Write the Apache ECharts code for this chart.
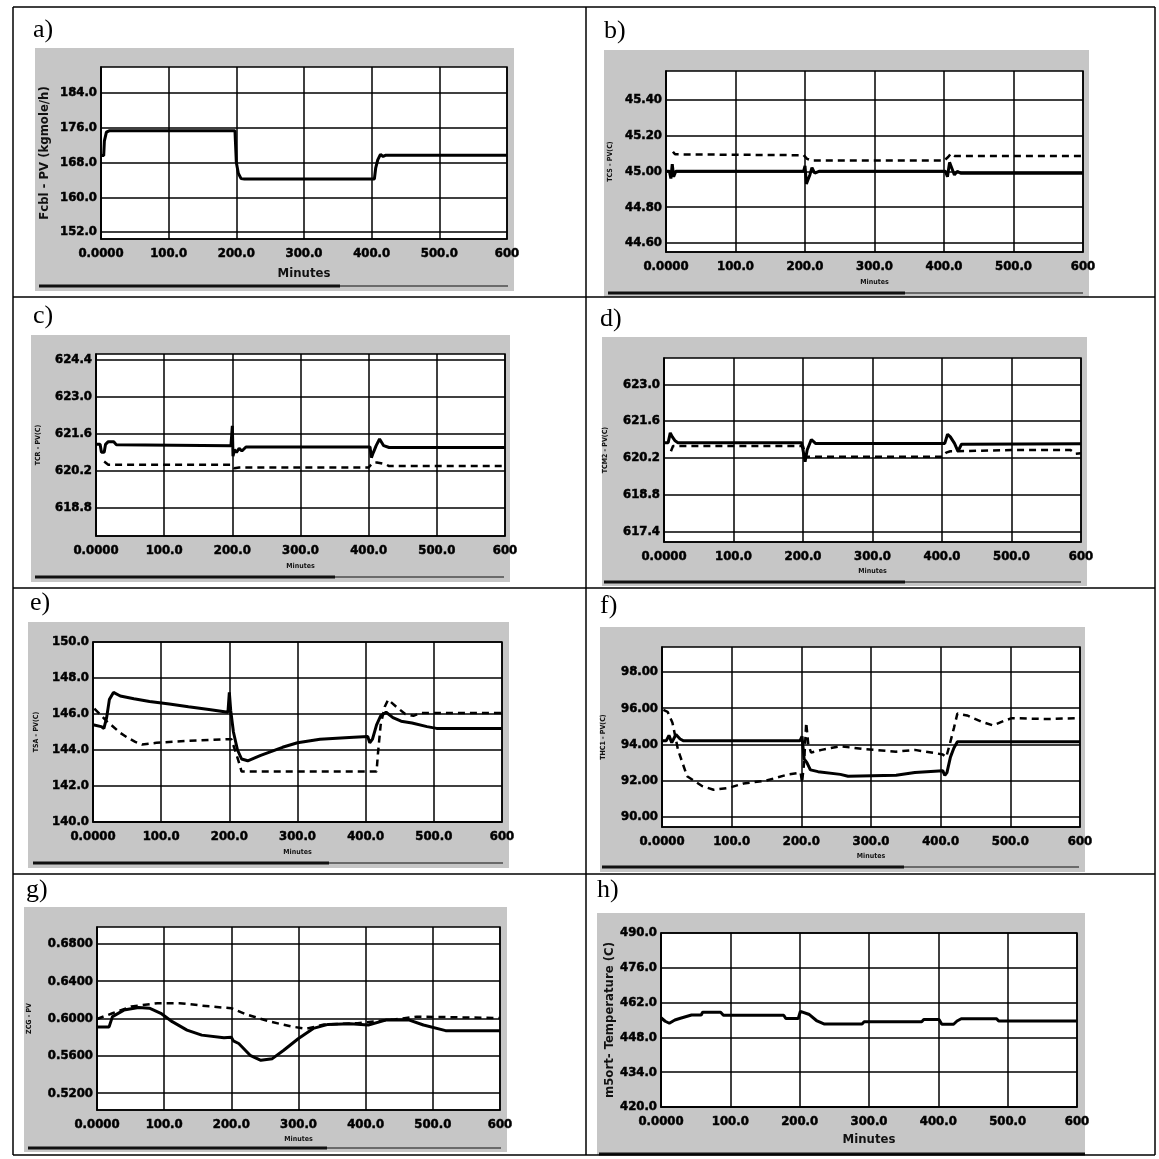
<!DOCTYPE html>
<html>
<head>
<meta charset="utf-8">
<script src="https://cdn.jsdelivr.net/npm/echarts@6/dist/echarts.min.js"></script>
<style>
html, body { margin: 0; padding: 0; background: #fff; }
#main { width: 1159px; height: 1159px; }
</style>
</head>
<body>
<div id="main"></div>
<script>
// shared time axis labels (minutes)
var xTickLabels = ['0.0000', '100.0', '200.0', '300.0', '400.0', '500.0', '600'];

// a) Fcbl - PV
var aTicks = [152, 160, 168, 176, 184];
var aTime = [0, 4, 5, 8, 12, 198, 200, 203, 207, 212, 404, 406, 409, 413, 417, 421, 600];
var aSolid = [169.6, 169.6, 173, 175, 175.3, 175.3, 168, 165.5, 164.3, 164.2, 164.2, 166.8, 168.6, 169.9, 169.4, 169.7, 169.7];

// b) TCS - PV
var bTicks = [44.6, 44.8, 45.0, 45.2, 45.4];
var bTime = [0, 5, 7, 9, 11, 14, 198, 200, 202, 204, 207, 210, 214, 220, 402, 405, 408, 411, 415, 419, 424, 600];
var bSolid = [45.0, 45.0, 44.96, 45.04, 44.97, 45.0, 45.0, 45.03, 44.93, 44.95, 44.98, 45.02, 44.99, 45.0, 45.0, 44.97, 45.05, 45.02, 44.98, 45.0, 44.99, 44.99];
var bDashTime = [10, 13, 198, 203, 210, 400, 406, 410, 416, 600];
var bDash = [45.11, 45.095, 45.09, 45.07, 45.06, 45.06, 45.08, 45.1, 45.085, 45.085];

// c) TCR - PV
var cTicks = [618.8, 620.2, 621.6, 623.0, 624.4];
var cTime = [0, 6, 8, 12, 14, 18, 26, 30, 198, 200, 201, 203, 206, 210, 214, 220, 402, 404, 407, 411, 416, 422, 430, 600];
var cSolid = [621.2, 621.2, 620.9, 620.9, 621.2, 621.3, 621.3, 621.18, 621.15, 621.9, 620.75, 621.0, 620.9, 621.05, 620.95, 621.1, 621.1, 620.7, 620.9, 621.15, 621.4, 621.15, 621.08, 621.08];
var cDashTime = [12, 14, 18, 199, 203, 210, 400, 405, 412, 425, 430, 600];
var cDash = [620.55, 620.48, 620.43, 620.43, 620.3, 620.33, 620.33, 620.48, 620.52, 620.45, 620.38, 620.38];

// d) TCM2 - PV
var dTicks = [617.4, 618.8, 620.2, 621.6, 623.0];
var dTime = [0, 6, 9, 12, 16, 20, 198, 200, 203, 206, 212, 218, 404, 408, 412, 418, 423, 428, 600];
var dSolid = [620.78, 620.78, 621.15, 621.0, 620.85, 620.78, 620.78, 620.5, 620.05, 620.5, 620.9, 620.75, 620.75, 621.1, 621.0, 620.75, 620.45, 620.72, 620.74];
var dDashTime = [10, 13, 200, 204, 400, 406, 412, 500, 585, 592, 600];
var dDash = [620.45, 620.65, 620.65, 620.24, 620.24, 620.4, 620.45, 620.5, 620.5, 620.36, 620.38];

// e) TSA - PV
var eTicks = [140, 142, 144, 146, 148, 150];
var eTime = [0, 12, 16, 20, 24, 30, 40, 60, 83, 112, 140, 170, 198, 200, 202, 206, 212, 218, 227, 246, 278, 300, 333, 376, 403, 406, 410, 416, 422, 430, 440, 452, 468, 490, 504, 600];
var eSolid = [145.4, 145.3, 145.2, 145.8, 146.8, 147.2, 147.0, 146.85, 146.7, 146.55, 146.4, 146.25, 146.1, 147.2, 146.2, 145.0, 144.0, 143.5, 143.4, 143.7, 144.15, 144.4, 144.6, 144.7, 144.75, 144.4, 144.6, 145.4, 145.9, 146.1, 145.8, 145.6, 145.5, 145.3, 145.2, 145.2];
var eDashTime = [2, 10, 20, 28, 40, 50, 62, 72, 93, 137, 200, 203, 210, 215, 218, 416, 418, 422, 428, 433, 445, 458, 470, 480, 600];
var eDash = [146.3, 146.0, 145.6, 145.35, 144.95, 144.7, 144.45, 144.3, 144.4, 144.5, 144.6, 144.6, 143.8, 143.2, 142.8, 142.8, 143.8, 145.4, 146.4, 146.8, 146.4, 146.0, 145.9, 146.05, 146.05];

// f) THC1 - PV
var fTicks = [90, 92, 94, 96, 98];
var fTime = [0, 6, 10, 14, 20, 26, 31, 198, 201, 204, 208, 213, 224, 256, 267, 336, 363, 403, 406, 409, 414, 419, 424, 600];
var fSolid = [94.2, 94.2, 94.5, 94.1, 94.55, 94.3, 94.2, 94.2, 94.45, 93.2, 93.0, 92.6, 92.5, 92.35, 92.25, 92.3, 92.45, 92.55, 92.3, 92.45, 93.3, 93.8, 94.15, 94.15];
var fDashTime = [2, 8, 15, 23, 36, 58, 74, 95, 117, 149, 181, 199, 201, 204, 207, 210, 214, 229, 256, 288, 336, 363, 403, 408, 413, 419, 424, 438, 459, 475, 491, 502, 550, 600];
var fDash = [95.9, 95.8, 95.2, 93.7, 92.25, 91.7, 91.5, 91.6, 91.85, 92.0, 92.35, 92.45, 91.9, 93.0, 95.2, 94.0, 93.55, 93.7, 93.9, 93.75, 93.6, 93.7, 93.45, 93.3, 94.0, 94.9, 95.7, 95.6, 95.25, 95.05, 95.3, 95.45, 95.4, 95.45];

// g) ZCG - PV
var gTicks = [0.52, 0.56, 0.60, 0.64, 0.68];
var gTime = [0, 18, 23, 40, 62, 78, 95, 112, 134, 156, 189, 200, 203, 211, 228, 244, 261, 278, 300, 322, 344, 377, 404, 431, 464, 486, 519, 600];
var gSolid = [0.591, 0.591, 0.602, 0.609, 0.6117, 0.611, 0.6056, 0.5966, 0.5876, 0.5822, 0.5793, 0.580, 0.576, 0.5732, 0.5606, 0.5552, 0.557, 0.566, 0.5786, 0.5894, 0.5937, 0.5945, 0.593, 0.5985, 0.5985, 0.593, 0.587, 0.587];
var gDashTime = [0, 23, 51, 90, 123, 167, 200, 222, 256, 289, 311, 338, 388, 443, 476, 600];
var gDash = [0.5995, 0.6056, 0.6128, 0.6164, 0.6164, 0.613, 0.611, 0.6045, 0.597, 0.5915, 0.589, 0.5935, 0.595, 0.599, 0.602, 0.6005];

// h) m5ort - Temperature
var hTicks = [420, 434, 448, 462, 476, 490];
var hTime = [0, 6, 12, 20, 28, 44, 58, 60, 86, 90, 177, 180, 198, 201, 203, 214, 225, 235, 290, 293, 376, 379, 401, 405, 422, 427, 433, 484, 487, 600];
var hSolid = [455.9, 454.5, 453.7, 455.0, 455.7, 457.0, 457.0, 458.1, 458.1, 456.9, 456.9, 455.6, 455.6, 458.5, 459.0, 457.2, 454.6, 453.4, 453.4, 454.3, 454.3, 455.2, 455.2, 453.3, 453.3, 454.6, 455.5, 455.5, 454.6, 454.6];

function pairs(t, v) {
    var out = [];
    for (var i = 0; i < t.length; i++) out.push([t[i], v[i]]);
    return out;
}

// panel layout: gray box [x0,y0,x1,y1], plot [left,top,right,bottom], tag position, scroll bar [x0, xSplit, y]
var panels = [
    { tag: 'a)', tagPos: [33, 30], yName: 'Fcbl - PV (kgmole/h)', big: true, ticks: aTicks, dec: 1, min: 150.4, max: 190,
      solid: pairs(aTime, aSolid), dash: null,
      box: [35, 48, 514, 291], plot: [101, 67, 507, 239], bar: [39, 340, 286], yGap: 50, xGap: 28 },
    { tag: 'b)', tagPos: [604, 31], yName: 'TCS - PV(C)', big: false, ticks: bTicks, dec: 2, min: 44.55, max: 45.56,
      solid: pairs(bTime, bSolid), dash: pairs(bDashTime, bDash),
      box: [604, 50, 1089, 297], plot: [666, 71, 1083, 252], bar: [608, 905, 293], yGap: 52, xGap: 27 },
    { tag: 'c)', tagPos: [33, 316], yName: 'TCR - PV(C)', big: false, ticks: cTicks, dec: 1, min: 617.75, max: 624.6,
      solid: pairs(cTime, cSolid), dash: pairs(cDashTime, cDash),
      box: [31, 335, 510, 582], plot: [96, 354, 505, 536], bar: [35, 335, 577], yGap: 54, xGap: 27 },
    { tag: 'd)', tagPos: [600, 319], yName: 'TCM2 - PV(C)', big: false, ticks: dTicks, dec: 1, min: 617.0, max: 624.0,
      solid: pairs(dTime, dSolid), dash: pairs(dDashTime, dDash),
      box: [602, 337, 1087, 586], plot: [664, 358, 1081, 542], bar: [604, 905, 582], yGap: 55, xGap: 26 },
    { tag: 'e)', tagPos: [30, 603], yName: 'TSA - PV(C)', big: false, ticks: eTicks, dec: 1, min: 140, max: 150,
      solid: pairs(eTime, eSolid), dash: pairs(eDashTime, eDash),
      box: [28, 622, 509, 868], plot: [93, 642, 502, 822], bar: [33, 329, 863], yGap: 53, xGap: 27 },
    { tag: 'f)', tagPos: [600, 606], yName: 'THC1 - PV(C)', big: false, ticks: fTicks, dec: 2, min: 89.45, max: 99.37,
      solid: pairs(fTime, fSolid), dash: pairs(fDashTime, fDash),
      box: [600, 627, 1085, 872], plot: [662, 647, 1080, 827], bar: [602, 904, 867], yGap: 55, xGap: 26 },
    { tag: 'g)', tagPos: [26, 890], yName: 'ZCG - PV', big: false, ticks: gTicks, dec: 4, min: 0.502, max: 0.698,
      solid: pairs(gTime, gSolid), dash: pairs(gDashTime, gDash),
      box: [24, 907, 507, 1152], plot: [97, 927, 500, 1110], bar: [28, 327, 1148], yGap: 64, xGap: 26 },
    { tag: 'h)', tagPos: [597, 890], yName: 'm5ort- Temperature (C)', big: true, ticks: hTicks, dec: 1, min: 420, max: 490,
      solid: pairs(hTime, hSolid), dash: null,
      box: [597, 913, 1085, 1155], plot: [661, 933, 1077, 1107], bar: [599, 1085, 1154], yGap: 44, xGap: 26 }
];

var W = 1159, H = 1159;
var labelFont = '"DejaVu Sans Condensed", "Liberation Sans Narrow", "DejaVu Sans", sans-serif';

var grids = [], xAxes = [], yAxes = [], series = [], graphics = [];

panels.forEach(function (p, i) {
    grids.push({
        left: p.plot[0], top: p.plot[1],
        right: W - p.plot[2], bottom: H - p.plot[3],
        show: true, backgroundColor: '#ffffff',
        borderColor: '#000', borderWidth: 1.5
    });
    xAxes.push({
        type: 'value', gridIndex: i, min: 0, max: 600, interval: 100,
        name: 'Minutes', nameLocation: 'middle', nameGap: p.xGap,
        nameTextStyle: {
            color: '#111', fontWeight: 'bold', fontFamily: labelFont,
            fontSize: p.big ? 13 : 7
        },
        axisLine: { show: true, lineStyle: { color: '#000', width: 1.5 } },
        axisTick: { show: false },
        splitLine: { show: true, lineStyle: { color: '#000', width: 1.5 } },
        axisLabel: {
            margin: 8, color: '#000', fontWeight: 'bold', fontSize: 13, fontFamily: labelFont,
            textBorderColor: '#000', textBorderWidth: 0.5,
            showMinLabel: true, showMaxLabel: true,
            formatter: function (v) { return xTickLabels[Math.round(v / 100)]; }
        }
    });
    yAxes.push({
        type: 'value', gridIndex: i, min: p.min, max: p.max,
        name: p.yName, nameLocation: 'middle', nameGap: p.yGap,
        nameTextStyle: {
            color: '#111', fontWeight: 'bold', fontFamily: labelFont,
            fontSize: p.big ? 13 : 7
        },
        axisLine: { show: true, lineStyle: { color: '#000', width: 1.5 } },
        axisTick: { show: false, customValues: p.ticks },
        splitLine: { show: true, lineStyle: { color: '#000', width: 1.5 } },
        axisLabel: {
            customValues: p.ticks, margin: 4, color: '#000', fontWeight: 'bold', fontSize: 13,
            fontFamily: labelFont, textBorderColor: '#000', textBorderWidth: 0.5,
            formatter: (function (dec) { return function (v) { return v.toFixed(dec); }; })(p.dec)
        }
    });
    if (p.dash) {
        series.push({
            type: 'line', xAxisIndex: i, yAxisIndex: i, data: p.dash,
            showSymbol: false, silent: true, z: 3,
            lineStyle: { color: '#000', width: 2.5, type: [7, 5] }
        });
    }
    series.push({
        type: 'line', xAxisIndex: i, yAxisIndex: i, data: p.solid,
        showSymbol: false, silent: true, z: 4,
        lineStyle: { color: '#000', width: 3 }
    });

    // gray chart window behind the plot
    graphics.push({
        type: 'rect', z: -10,
        shape: { x: p.box[0], y: p.box[1], width: p.box[2] - p.box[0], height: p.box[3] - p.box[1] },
        style: { fill: '#c6c6c6' }
    });
    // scroll bar along the bottom of the window
    graphics.push({
        type: 'rect', z: -9,
        shape: { x: p.bar[1], y: p.bar[2] - 1, width: p.box[2] - 6 - p.bar[1], height: 2 },
        style: { fill: '#6a6a6a' }
    });
    graphics.push({
        type: 'rect', z: -9,
        shape: { x: p.bar[0], y: p.bar[2] - 1.5, width: p.bar[1] - p.bar[0], height: 3 },
        style: { fill: '#111' }
    });
    // panel tag
    graphics.push({
        type: 'text', z: 20, x: p.tagPos[0], y: p.tagPos[1],
        style: {
            text: p.tag, fill: '#000', font: '26px "Liberation Serif", "DejaVu Serif", serif',
            verticalAlign: 'middle', align: 'left'
        }
    });
});

// table borders
var tableLines = [
    [13, 7, 13, 1155], [1155, 7, 1155, 1155], [13, 7, 1155, 7], [13, 1155, 1155, 1155],
    [586, 7, 586, 1155], [13, 297, 1155, 297], [13, 588, 1155, 588], [13, 874, 1155, 874]
];
tableLines.forEach(function (l) {
    graphics.push({
        type: 'line', z: 30,
        shape: { x1: l[0], y1: l[1], x2: l[2], y2: l[3] },
        style: { stroke: '#000', lineWidth: 1.5 }
    });
});

var myChart = echarts.init(document.getElementById('main'), null, { renderer: 'canvas' });
myChart.setOption({
    animation: false,
    backgroundColor: '#ffffff',
    grid: grids,
    xAxis: xAxes,
    yAxis: yAxes,
    series: series,
    graphic: { elements: graphics }
});
</script>
</body>
</html>
